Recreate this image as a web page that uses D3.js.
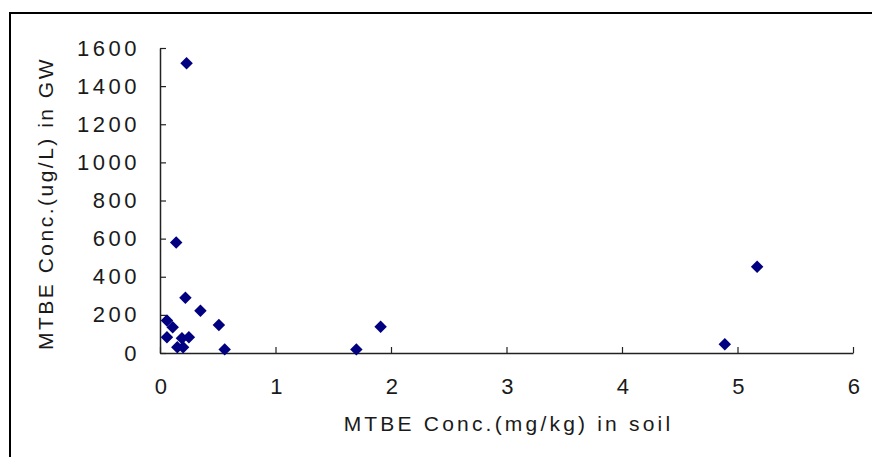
<!DOCTYPE html>
<html>
<head>
<meta charset="utf-8">
<script src="https://cdn.jsdelivr.net/npm/d3@7"></script>
<style>
  html, body { margin: 0; padding: 0; background: #fff; }
  svg { display: block; }
  text { font-family: "Liberation Sans", Arial, sans-serif; fill: #1a1a1a; }
</style>
</head>
<body>
<script>
// Data
const soilConc = [0.23, 0.14, 0.22, 0.35, 0.06, 0.11, 0.51, 0.06, 0.25, 0.19, 0.15, 0.20, 0.56, 1.70, 1.91, 4.89, 5.17];
const gwConc   = [1520, 580, 290, 222, 170, 135, 147, 82, 82, 77, 30, 30, 19, 19, 138, 46, 453];
const xTicks = [0, 1, 2, 3, 4, 5, 6];
const yTicks = [0, 200, 400, 600, 800, 1000, 1200, 1400, 1600];
const xTitle = "MTBE Conc.(mg/kg) in soil";
const yTitle = "MTBE Conc.(ug/L) in GW";

const W = 872, H = 457;
const plot = { left: 160, right: 853, top: 48, bottom: 353 };

const svg = d3.select("body").append("svg").attr("width", W).attr("height", H);

// outer frame (chart area border, running off right/bottom edges)
svg.append("path")
  .attr("d", `M10,${H + 5} L10,13 L${W + 5},13`)
  .attr("fill", "none").attr("stroke", "#000").attr("stroke-width", 2);

const x = d3.scaleLinear().domain([0, 6]).range([plot.left, plot.right]);
const y = d3.scaleLinear().domain([0, 1600]).range([plot.bottom, plot.top]);

const tickFont = 22;
const titleFont = 21;

const xAxis = svg.append("g")
  .attr("transform", `translate(0,${plot.bottom})`)
  .call(d3.axisBottom(x).tickValues(xTicks).tickFormat(d3.format("d"))
    .tickSizeInner(-6).tickSizeOuter(0).tickPadding(25));
const yAxis = svg.append("g")
  .attr("transform", `translate(${plot.left},0)`)
  .call(d3.axisLeft(y).tickValues(yTicks).tickFormat(d3.format("d"))
    .tickSizeInner(-6).tickSizeOuter(0).tickPadding(20));

[xAxis, yAxis].forEach(g => {
  g.select(".domain").attr("stroke", "#222").attr("stroke-width", 1.5);
  g.selectAll(".tick line").attr("stroke", "#222").attr("stroke-width", 1.2);
  g.selectAll(".tick text")
    .attr("font-family", "Liberation Sans, Arial, sans-serif")
    .attr("font-size", tickFont).attr("fill", "#1a1a1a")
    .style("letter-spacing", "3.5px");
});
xAxis.selectAll(".tick text").attr("dx", 2);

// axis titles
svg.append("text")
  .attr("x", (plot.left + plot.right) / 2 + 2).attr("y", 431)
  .attr("text-anchor", "middle")
  .attr("font-size", titleFont)
  .style("letter-spacing", "3.2px")
  .text(xTitle);

svg.append("text")
  .attr("transform", `translate(53,${(plot.top + plot.bottom) / 2 + 3}) rotate(-90)`)
  .attr("text-anchor", "middle")
  .attr("font-size", titleFont)
  .style("letter-spacing", "2.5px")
  .text(yTitle);

// points
const pts = soilConc.map((v, i) => ({ sx: v, gw: gwConc[i] }));
const diamond = d3.symbol().type(d3.symbolSquare).size(78);
svg.append("g").selectAll("path").data(pts).join("path")
  .attr("d", diamond)
  .attr("transform", d => `translate(${x(d.sx)},${y(d.gw)}) rotate(45)`)
  .attr("fill", "#000080");
</script>
</body>
</html>
